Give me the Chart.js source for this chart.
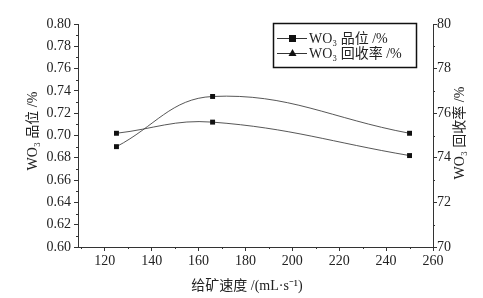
<!DOCTYPE html>
<html>
<head>
<meta charset="utf-8">
<script src="https://cdn.jsdelivr.net/npm/chart.js@4.4.1/dist/chart.umd.min.js"></script>
<style>
  html, body { margin: 0; padding: 0; background: #fff; }
  #wrap { width: 483px; height: 298px; }
</style>
</head>
<body>
<div id="wrap"><canvas id="chart" width="483" height="298"></canvas></div>
<script>
// feed rate (mL/s) and the two measured series
const feedRates = [125, 166, 250];
const gradeValues = [0.690, 0.735, 0.702];
const recoveryValues = [75.1, 75.6, 74.1];
const seriesLabels = ["WO₃ 品位 /%", "WO₃ 回收率 /%"];
const leftTitle = "WO₃ 品位 /%";
const rightTitle = "WO₃ 回收率 /%";
const bottomTitle = "给矿速度 /(mL·s⁻¹)";
const minorX = [110, 130, 150, 170, 190, 210, 230, 250];
const minorLeft = [0.61, 0.63, 0.65, 0.67, 0.69, 0.71, 0.73, 0.75, 0.77, 0.79];
const minorRight = [71, 73, 75, 77, 79];

const serif = '"Liberation Serif", "Times New Roman", "Noto Sans CJK SC", serif';
const ink = "#222";

// minor ticks, axis titles and the boxed legend, drawn after the chart
const decorations = {
  id: "decorations",
  afterDraw(chart) {
    const ctx = chart.ctx;
    const { x, y, y1 } = chart.scales;
    const area = chart.chartArea;
    ctx.save();
    ctx.strokeStyle = "#333";
    ctx.lineWidth = 1;
    ctx.beginPath();
    minorX.forEach((v) => {
      const px = Math.round(x.getPixelForValue(v)) + 0.5;
      ctx.moveTo(px, area.bottom);
      ctx.lineTo(px, area.bottom + 2);
    });
    minorLeft.forEach((v) => {
      const py = Math.round(y.getPixelForValue(v)) + 0.5;
      ctx.moveTo(area.left, py);
      ctx.lineTo(area.left - 2, py);
    });
    minorRight.forEach((v) => {
      const py = Math.round(y1.getPixelForValue(v)) + 0.5;
      ctx.moveTo(area.right, py);
      ctx.lineTo(area.right + 2, py);
    });
    ctx.stroke();

    ctx.fillStyle = ink;
    ctx.font = "14px " + serif;
    ctx.textAlign = "center";
    ctx.textBaseline = "middle";
    ctx.save();
    ctx.translate(33, 131);
    ctx.rotate(-Math.PI / 2);
    ctx.fillText(leftTitle, 0, 0);
    ctx.restore();
    ctx.save();
    ctx.translate(460, 133);
    ctx.rotate(-Math.PI / 2);
    ctx.fillText(rightTitle, 0, 0);
    ctx.restore();
    ctx.fillText(bottomTitle, 247, 286);

    // legend box
    ctx.lineWidth = 1.5;
    ctx.strokeStyle = "#111";
    ctx.strokeRect(273.5, 23.5, 143, 44);
    const rows = [38, 53];
    ctx.textAlign = "left";
    rows.forEach((ry, i) => {
      ctx.lineWidth = 1;
      ctx.strokeStyle = "#333";
      ctx.beginPath();
      ctx.moveTo(277, ry + 0.5);
      ctx.lineTo(307, ry + 0.5);
      ctx.stroke();
      ctx.fillStyle = "#111";
      if (i === 0) {
        ctx.fillRect(289, ry - 3, 7, 7);
      } else {
        ctx.beginPath();
        ctx.moveTo(292.5, ry - 4);
        ctx.lineTo(296.5, ry + 3);
        ctx.lineTo(288.5, ry + 3);
        ctx.closePath();
        ctx.fill();
      }
      ctx.fillStyle = ink;
      ctx.fillText(seriesLabels[i], 309, ry + 1);
    });
    ctx.restore();
  }
};

new Chart(document.getElementById("chart"), {
  type: "line",
  data: {
    datasets: [
      {
        label: seriesLabels[0],
        data: feedRates.map((f, i) => ({ x: f, y: gradeValues[i] })),
        yAxisID: "y",
        borderColor: "#444",
        borderWidth: 0.9,
        backgroundColor: "#111",
        pointStyle: "rect",
        pointRadius: 3.5,
        pointBorderWidth: 0,
        tension: 0.4
      },
      {
        label: seriesLabels[1],
        data: feedRates.map((f, i) => ({ x: f, y: recoveryValues[i] })),
        yAxisID: "y1",
        borderColor: "#444",
        borderWidth: 0.9,
        backgroundColor: "#111",
        pointStyle: "rect",
        pointRadius: 3.5,
        pointBorderWidth: 0,
        tension: 0.4
      }
    ]
  },
  options: {
    responsive: false,
    animation: false,
    devicePixelRatio: 1,
    layout: { padding: { top: 24, left: 0, right: 0, bottom: 0 } },
    plugins: {
      legend: { display: false },
      tooltip: { enabled: false }
    },
    scales: {
      x: {
        type: "linear",
        min: 108.6,
        max: 260,
        afterBuildTicks: (scale) => {
          scale.ticks = [120, 140, 160, 180, 200, 220, 240, 260].map((v) => ({ value: v }));
        },
        afterFit: (scale) => { scale.height = 51; },
        border: { display: true, color: "#333", width: 1 },
        grid: { drawOnChartArea: false, drawTicks: true, tickLength: 4, color: "#333" },
        ticks: { color: ink, font: { family: serif, size: 14 }, padding: 2, maxRotation: 0 }
      },
      y: {
        position: "left",
        min: 0.6,
        max: 0.8,
        afterFit: (scale) => { scale.width = 78; },
        border: { display: true, color: "#333", width: 1 },
        grid: { drawOnChartArea: false, drawTicks: true, tickLength: 4, color: "#333" },
        ticks: {
          stepSize: 0.02,
          color: ink,
          font: { family: serif, size: 14 },
          padding: 3,
          callback: (v) => v.toFixed(2)
        }
      },
      y1: {
        position: "right",
        min: 70,
        max: 80,
        afterFit: (scale) => { scale.width = 50; },
        border: { display: true, color: "#333", width: 1 },
        grid: { drawOnChartArea: false, drawTicks: true, tickLength: 4, color: "#333" },
        ticks: { stepSize: 2, color: ink, font: { family: serif, size: 14 }, padding: 0 }
      }
    }
  },
  plugins: [decorations]
});
</script>
</body>
</html>
